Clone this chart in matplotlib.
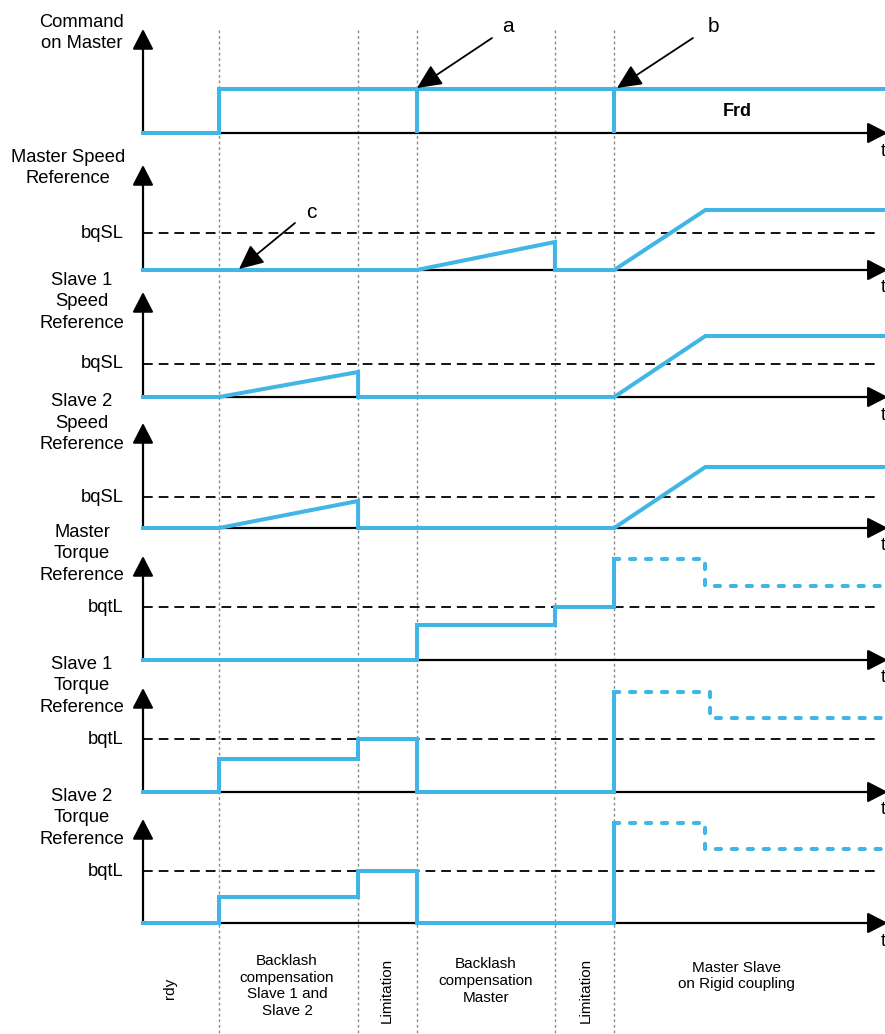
import matplotlib
matplotlib.use('Agg')
import matplotlib.pyplot as plt

plt.rcParams['font.family'] = ['Liberation Sans', 'DejaVu Sans']
plt.rcParams['lines.scale_dashes'] = False

# ---------------- data ----------------
event_times = [1.0, 2.83, 3.6, 5.42, 6.2]   # phase boundaries (time units)
t_end = 9.76

panel_labels = ["Command\non Master", "Master Speed\nReference",
                "Slave 1\nSpeed\nReference", "Slave 2\nSpeed\nReference",
                "Master\nTorque\nReference", "Slave 1\nTorque\nReference",
                "Slave 2\nTorque\nReference"]
threshold_names = [None, "bqSL", "bqSL", "bqSL", "bqtL", "bqtL", "bqtL"]
threshold_levels = [None, 3.7, 3.3, 3.1, 5.3, 5.3, 5.2]
axis_tops = [10.4, 10.5, 10.5, 10.5, 10.4, 10.4, 10.4]

cmd_t = [0, 1.0, 1.0, 3.6, 3.6, 3.6, 6.2, 6.2, 6.2, 9.76]
cmd_v = [0, 0, 4.4, 4.4, 0, 4.4, 4.4, 0, 4.4, 4.4]

msr_t = [0, 3.6, 5.42, 5.42, 6.2, 7.4, 9.76]
msr_v = [0, 0, 2.8, 0, 0, 6.0, 6.0]

s1sr_t = [0, 1.0, 2.83, 2.83, 6.2, 7.4, 9.76]
s1sr_v = [0, 0, 2.5, 0, 0, 6.1, 6.1]

s2sr_t = [0, 1.0, 2.83, 2.83, 6.2, 7.4, 9.76]
s2sr_v = [0, 0, 2.7, 0, 0, 6.1, 6.1]

mtr_t = [0, 3.6, 3.6, 5.42, 5.42, 6.2, 6.2]
mtr_v = [0, 0, 3.5, 3.5, 5.3, 5.3, 10.1]
mtr_dot_t = [6.2, 7.4, 7.4, 9.76]
mtr_dot_v = [10.1, 10.1, 7.4, 7.4]

s1tr_t = [0, 1.0, 1.0, 2.83, 2.83, 3.6, 3.6, 6.2, 6.2]
s1tr_v = [0, 0, 3.3, 3.3, 5.3, 5.3, 0, 0, 10.0]
s1tr_dot_t = [6.2, 7.46, 7.46, 9.76]
s1tr_dot_v = [10.0, 10.0, 7.4, 7.4]

s2tr_t = [0, 1.0, 1.0, 2.83, 2.83, 3.6, 3.6, 6.2, 6.2]
s2tr_v = [0, 0, 2.6, 2.6, 5.2, 5.2, 0, 0, 10.0]
s2tr_dot_t = [6.2, 7.4, 7.4, 9.76]
s2tr_dot_v = [10.0, 10.0, 7.4, 7.4]

solid_series = [(cmd_t, cmd_v), (msr_t, msr_v), (s1sr_t, s1sr_v), (s2sr_t, s2sr_v),
                (mtr_t, mtr_v), (s1tr_t, s1tr_v), (s2tr_t, s2tr_v)]
dotted_series = [None, None, None, None,
                 (mtr_dot_t, mtr_dot_v), (s1tr_dot_t, s1tr_dot_v), (s2tr_dot_t, s2tr_dot_v)]

phase_labels = ["rdy", "Backlash\ncompensation\nSlave 1 and\nSlave 2", "Limitation",
                "Backlash\ncompensation\nMaster", "Limitation", "Master Slave\non Rigid coupling"]
phase_rot = [90, 0, 90, 0, 90, 0]

# ---------------- layout ----------------
W, H = 885, 1034
PX0, PXU = 143, 76.0            # pixel of t=0, pixels per time unit
XLIM = (-PX0 / PXU, (W - PX0) / PXU)
panel_base_px = [133, 270, 397, 528, 660, 792, 923]
label_pos_px = [(82, 33), (68, 168), (82, 302), (82, 423), (82, 554), (82, 686), (82, 818)]
phase_pos_px = [(170, 988), (287, 986), (387, 990), (486, 981), (586, 990), (736, 976)]
BLUE = '#41B6E6'

fig = plt.figure(figsize=(W / 100, H / 100), dpi=100)

# background axes: time on x, pixel rows on y (for phase separators)
bg = fig.add_axes([0, 0, 1, 1])
bg.set_xlim(*XLIM)
bg.set_ylim(H, 0)
bg.axis('off')
bg.vlines(event_times, 30, H, colors='#8a8a8a', lw=1.0, linestyles=[(0, (2, 2))])

for i, base in enumerate(panel_base_px):
    ax = fig.add_axes([0, 1 - base / H, 1, 110 / H])
    ax.set_xlim(*XLIM)
    ax.set_ylim(0, 11)
    ax.axis('off')
    # axes arrows
    ax.annotate('', xy=(0, axis_tops[i]), xytext=(0, 0),
                arrowprops=dict(arrowstyle='-|>,head_length=0.62,head_width=0.32',
                                lw=1.6, color='black', mutation_scale=20,
                                shrinkA=0, shrinkB=0), annotation_clip=False)
    ax.annotate('', xy=(9.80, 0), xytext=(0, 0),
                arrowprops=dict(arrowstyle='-|>,head_length=0.62,head_width=0.32',
                                lw=1.6, color='black', mutation_scale=20,
                                shrinkA=0, shrinkB=0), annotation_clip=False)
    if threshold_levels[i] is not None:
        ax.plot([0, 9.70], [threshold_levels[i]] * 2, color='black', lw=1.3,
                linestyle=(0, (7, 4.3)), clip_on=False)
    st, sv = solid_series[i]
    ax.plot(st, sv, color=BLUE, lw=2.9, solid_joinstyle='miter',
            solid_capstyle='projecting', clip_on=False, zorder=5)
    if dotted_series[i] is not None:
        dt, dv = dotted_series[i]
        ax.plot(dt, dv, color=BLUE, lw=2.9, linestyle=(0, (3.8, 7.7)),
                dash_capstyle='round', dash_joinstyle='round', clip_on=False, zorder=5)

# text overlay axes in pixel units
px = fig.add_axes([0, 0, 1, 1])
px.set_xlim(0, W)
px.set_ylim(H, 0)
px.axis('off')

for i, base in enumerate(panel_base_px):
    lx, ly = label_pos_px[i]
    px.text(lx, ly, panel_labels[i], ha='center', va='center', fontsize=13.2,
            linespacing=1.32)
    if threshold_names[i] is not None:
        ty = base - threshold_levels[i] * 10
        px.text(124, ty, threshold_names[i], ha='right', va='center', fontsize=13.2)
    px.text(881, base + 18, 't', ha='left', va='center', fontsize=13)

for (x, y), lab, rot in zip(phase_pos_px, phase_labels, phase_rot):
    px.text(x, y, lab, ha='center', va='center', fontsize=11, rotation=rot,
            linespacing=1.27)

arrow_kw = dict(arrowstyle='-|>,head_length=0.75,head_width=0.35', lw=1.3,
                color='black', mutation_scale=20, shrinkA=0, shrinkB=0)
for lab, tpos, start, tip in [('a', (508, 27), (492, 38), (417, 88)),
                              ('b', (713, 27), (693, 38), (617, 88)),
                              ('c', (311, 213), (295, 223), (239, 269))]:
    px.text(*tpos, lab, ha='center', va='center', fontsize=15)
    px.annotate('', xy=tip, xytext=start, arrowprops=arrow_kw)

px.text(737, 112, 'Frd', ha='center', va='center', fontsize=13, fontweight='bold')

fig.savefig('out.png', dpi=100)
